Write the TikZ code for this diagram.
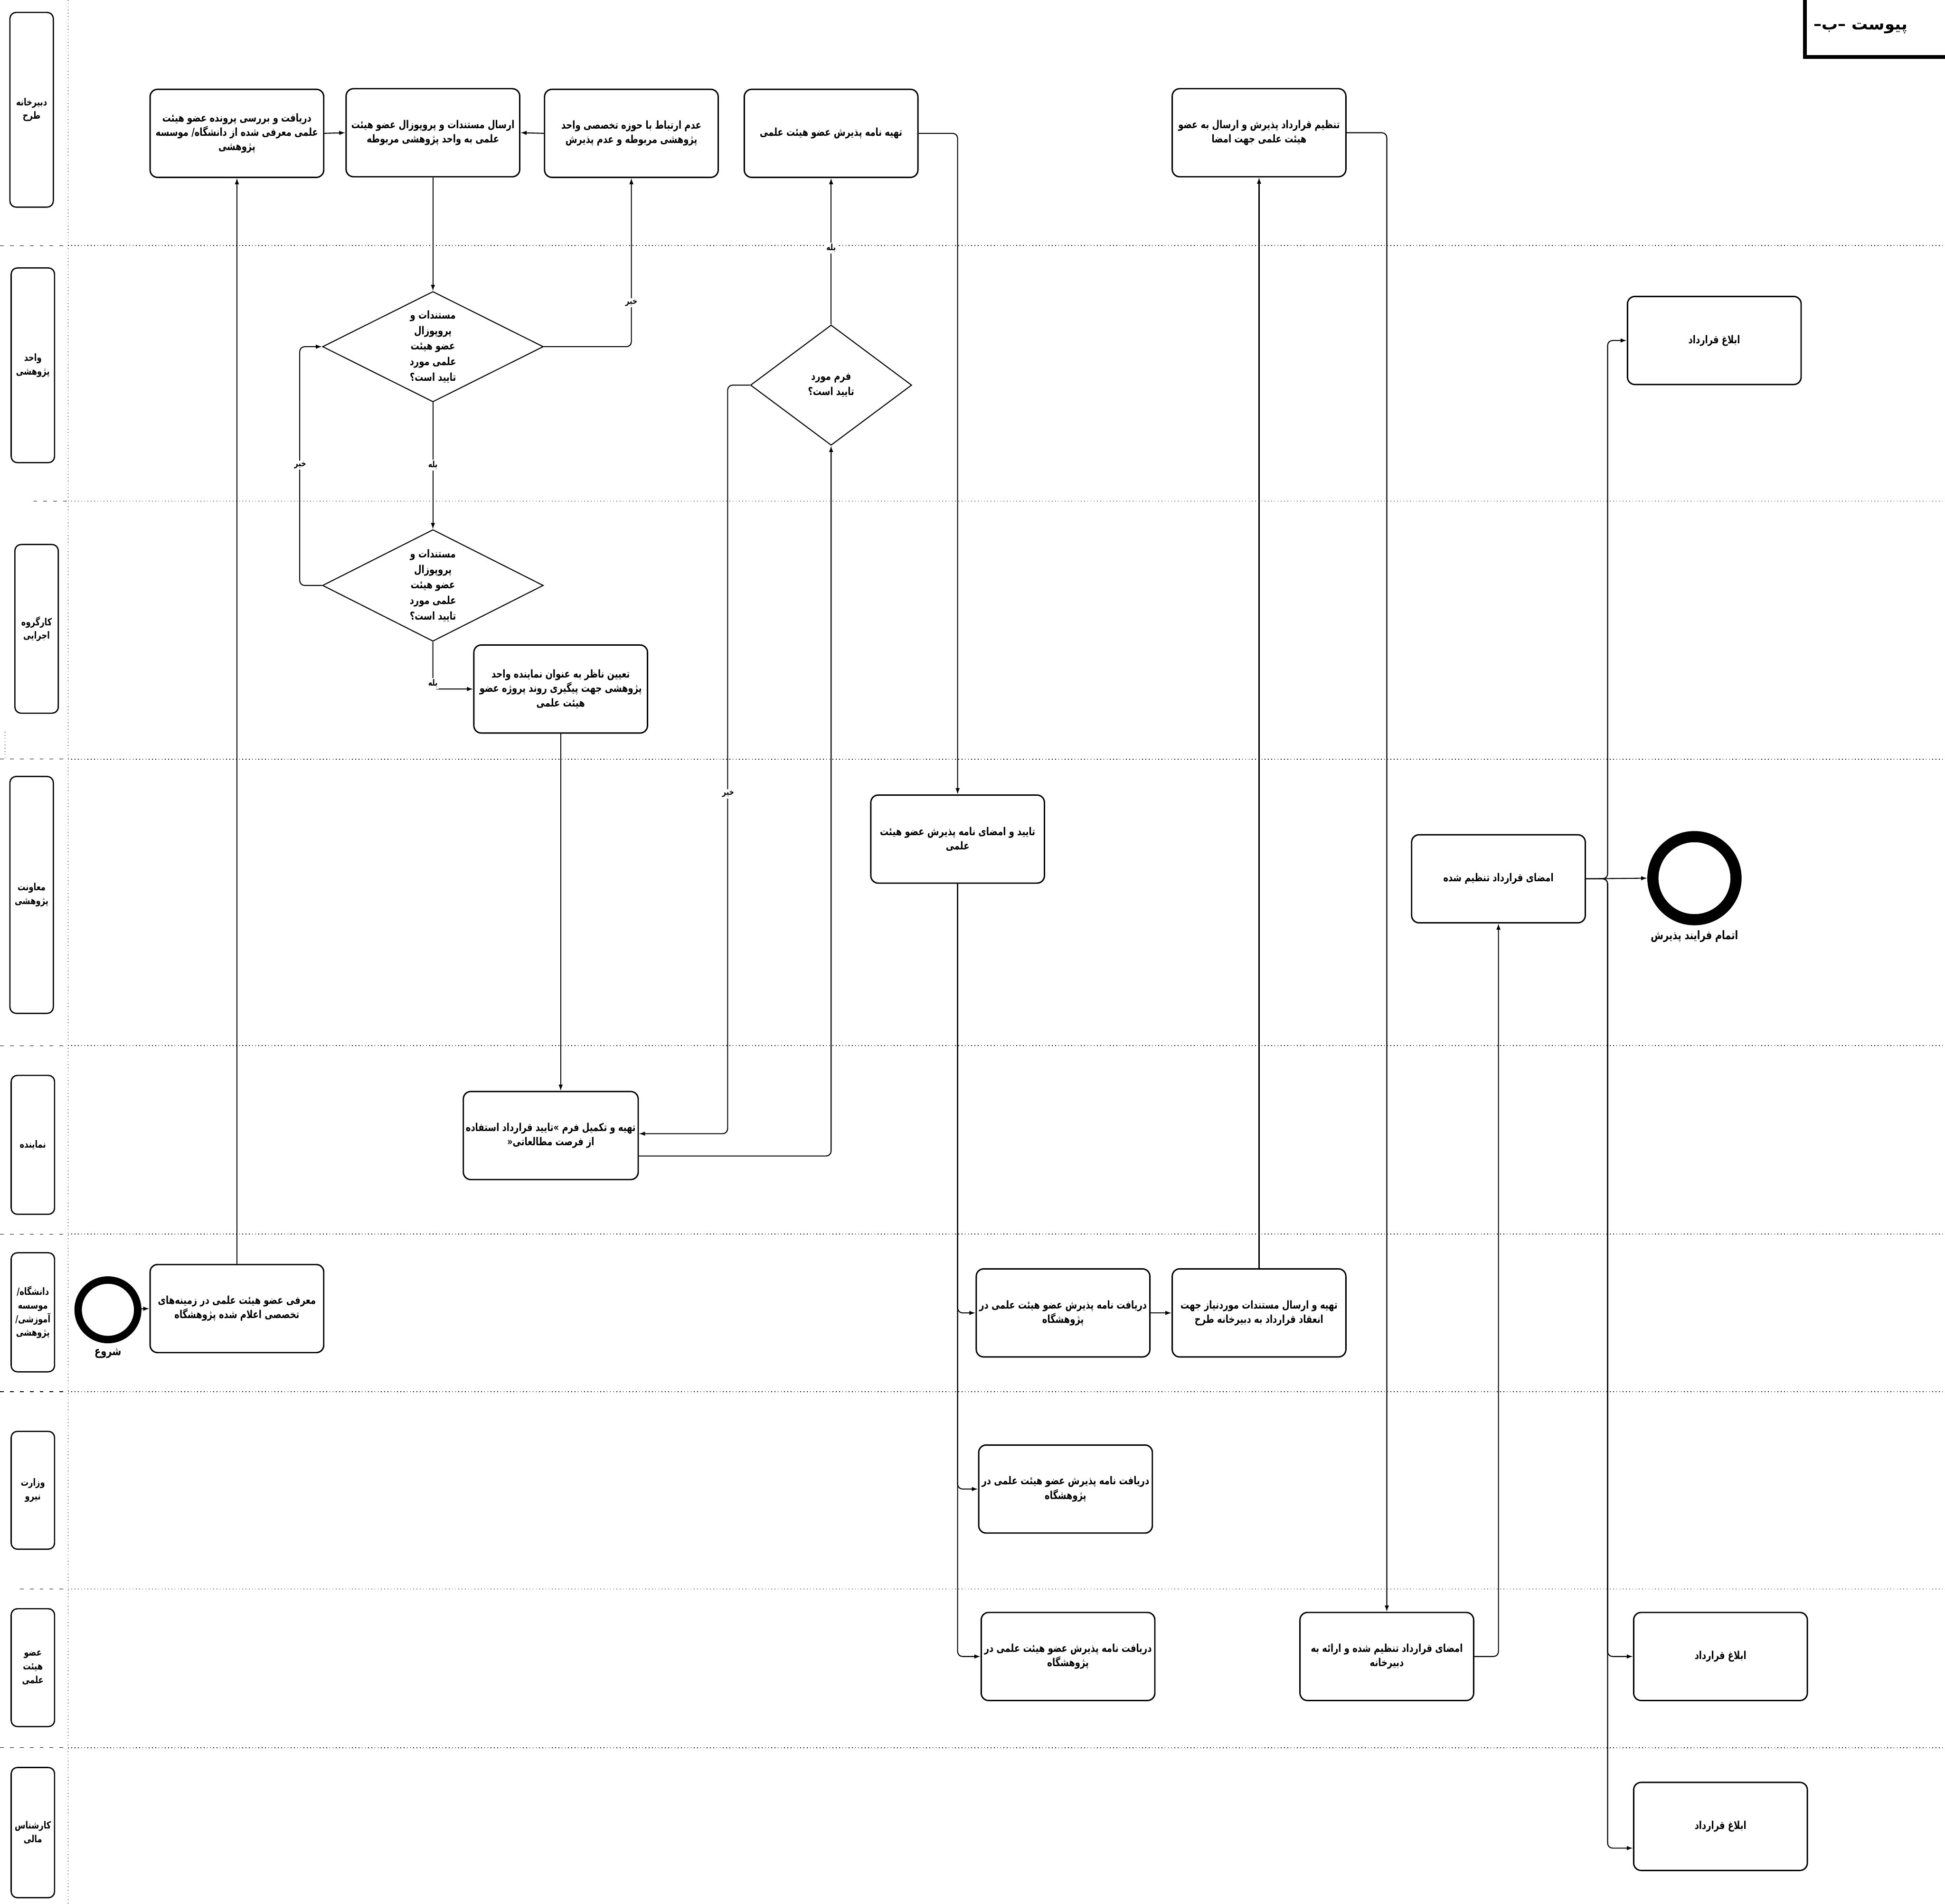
\documentclass[tikz,border=0pt]{standalone}
\usepackage{fontspec}
\usetikzlibrary{shapes.geometric,arrows.meta,calc}
\newfontfamily\arabicfont[Script=Arabic,FakeStretch=0.78]{DejaVu Sans}
\newfontfamily\titlefont[Script=Arabic]{DejaVu Sans}
\TeXXeTstate=1
\newcommand\ar[1]{\beginR #1\endR}
\tikzset{
 pbox/.style={draw, rounded corners=6pt, line width=1.1pt, minimum width=140pt, minimum height=71pt, align=center, inner sep=2pt, font=\arabicfont\bfseries\fontsize{8.8}{11.5}\selectfont},
 lanebox/.style={draw, rounded corners=5pt, line width=1pt, minimum width=35pt, align=center, inner sep=1pt, font=\arabicfont\bfseries\fontsize{8}{11}\selectfont},
 dec/.style={draw, diamond, line width=0.8pt, inner sep=0pt},
 dectext/.style={align=center, inner sep=0pt, font=\arabicfont\bfseries\fontsize{8.8}{12.5}\selectfont},
 flow/.style={line width=0.8pt, -{Latex[length=5pt,width=3.5pt]}, rounded corners=4pt},
 elabel/.style={fill=white, inner sep=1pt, font=\arabicfont\bfseries\fontsize{7}{8}\selectfont},
 sepdot/.style={dotted, line width=0.6pt},
 sepdash/.style={dash pattern=on 3pt off 5pt, line width=0.5pt},
 evt/.style={draw, circle},
 evtlabel/.style={font=\arabicfont\bfseries\fontsize{9.5}{10}\selectfont},
}
\begin{document}
\begin{tikzpicture}[x=1pt,y=-1pt]
\useasboundingbox (0,0) rectangle (1568,1535);
% separators
\draw[sepdot] (55,0) -- (55,1535);
\foreach \yy/\xs in {198/0,404/27,612/0,843/0,995/0,1122/0,1281/16,1409/0}{
  \draw[sepdash] (\xs,\yy) -- (55,\yy);
  \draw[sepdot] (55,\yy) -- (1568,\yy);
}
\draw[sepdot] (4,590) -- (4,612);
% title
\draw[line width=3pt] (1455,-10) rectangle (1580,46);
\node[font=\titlefont\bfseries\fontsize{13}{16}\selectfont] (title) at (1500,23) {\ar{پیوست –ب–}};
% lane labels
\node[lanebox, minimum height=157pt] (L1) at (25.5,88.5) {\ar{دبیرخانه}\\\ar{طرح}};
\node[lanebox, minimum height=157pt] (L2) at (26.5,294.5) {\ar{واحد}\\\ar{پژوهشی}};
\node[lanebox, minimum height=136pt] (L3) at (29.5,507) {\ar{کارگروه}\\\ar{اجرایی}};
\node[lanebox, minimum height=191pt] (L4) at (25.5,721.5) {\ar{معاونت}\\\ar{پژوهشی}};
\node[lanebox, minimum height=112pt] (L5) at (26.5,923) {\ar{نماینده}};
\node[lanebox, minimum height=96pt] (L6) at (26.5,1058) {\ar{دانشگاه/}\\\ar{موسسه}\\\ar{آموزشی/}\\\ar{پژوهشی}};
\node[lanebox, minimum height=95pt] (L7) at (26.5,1201.5) {\ar{وزارت}\\\ar{نیرو}};
\node[lanebox, minimum height=95pt] (L8) at (26.5,1344.5) {\ar{عضو}\\\ar{هیئت}\\\ar{علمی}};
\node[lanebox, minimum height=105pt] (L9) at (26.5,1477.5) {\ar{کارشناس}\\\ar{مالی}};
% process boxes
\node[pbox] (A) at (191,107.5) {\ar{دریافت و بررسی پرونده عضو هیئت}\\\ar{علمی معرفی شده از دانشگاه/ موسسه}\\\ar{پژوهشی}};
\node[pbox] (B) at (349,107) {\ar{ارسال مستندات و پروپوزال عضو هیئت}\\\ar{علمی به واحد پژوهشی مربوطه}};
\node[pbox] (C) at (509,107.5) {\ar{عدم ارتباط با حوزه تخصصی واحد}\\\ar{پژوهشی مربوطه و عدم پذیرش}};
\node[pbox] (D) at (670,107.5) {\ar{تهیه نامه پذیرش عضو هیئت علمی}};
\node[pbox] (E) at (1015,107) {\ar{تنظیم قرارداد پذیرش و ارسال به عضو}\\\ar{هیئت علمی جهت امضا}};
\node[pbox] (F) at (1382,274.5) {\ar{ابلاغ قرارداد}};
\node[pbox] (G) at (452,555.5) {\ar{تعیین ناظر به عنوان نماینده واحد}\\\ar{پژوهشی جهت پیگیری روند پروژه عضو}\\\ar{هیئت علمی}};
\node[pbox] (H) at (772,676.5) {\ar{تایید و امضای نامه پذیرش عضو هیئت}\\\ar{علمی}};
\node[pbox] (I) at (1208,708.5) {\ar{امضای قرارداد تنظیم شده}};
\node[pbox] (J) at (444,915.5) {\ar{تهیه و تکمیل فرم »تایید قرارداد استفاده}\\\ar{از فرصت مطالعاتی«}};
\node[pbox] (K) at (191,1055) {\ar{معرفی عضو هیئت علمی در زمینه‌های}\\\ar{تخصصی اعلام شده پژوهشگاه}};
\node[pbox] (L) at (857,1058.5) {\ar{دریافت نامه پذیرش عضو هیئت علمی در}\\\ar{پژوهشگاه}};
\node[pbox] (M) at (1015,1058.5) {\ar{تهیه و ارسال مستندات موردنیاز جهت}\\\ar{انعقاد قرارداد به دبیرخانه طرح}};
\node[pbox] (N) at (859,1200.5) {\ar{دریافت نامه پذیرش عضو هیئت علمی در}\\\ar{پژوهشگاه}};
\node[pbox] (O) at (861,1335.5) {\ar{دریافت نامه پذیرش عضو هیئت علمی در}\\\ar{پژوهشگاه}};
\node[pbox] (P) at (1118,1335.5) {\ar{امضای قرارداد تنظیم شده و ارائه به}\\\ar{دبیرخانه}};
\node[pbox] (Q) at (1387,1335.5) {\ar{ابلاغ قرارداد}};
\node[pbox] (R) at (1387,1472.5) {\ar{ابلاغ قرارداد}};
% decisions
\node[dec, minimum width=178pt, minimum height=89pt] (d1) at (349,279.5) {};
\node[dectext] (d1t) at (d1.center) {\ar{مستندات و}\\\ar{پروپوزال}\\\ar{عضو هیئت}\\\ar{علمی مورد}\\\ar{تایید است؟}};
\node[dec, minimum width=178pt, minimum height=90pt] (d2) at (349,472) {};
\node[dectext] (d2t) at (d2.center) {\ar{مستندات و}\\\ar{پروپوزال}\\\ar{عضو هیئت}\\\ar{علمی مورد}\\\ar{تایید است؟}};
\node[dec, minimum width=130pt, minimum height=97pt] (d3) at (670,310.5) {};
\node[dectext] (d3t) at (d3.center) {\ar{فرم مورد}\\\ar{تایید است؟}};
% events
\node[evt, line width=6pt, minimum size=48pt] (st) at (87,1056) {};
\node[evtlabel] (stl) at (87,1091) {\ar{شروع}};
\node[evt, line width=9pt, minimum size=67pt] (endc) at (1366,708) {};
\node[evtlabel] (endl) at (1366,755) {\ar{اتمام فرایند پذیرش}};
% connectors
\draw[flow] (st) -- (K.west);
\draw[flow] (K.north) -- (A.south);
\draw[flow] (A.east) -- (B.west);
\draw[flow] (C.west) -- (B.east);
\draw[flow] (B.south) -- (d1.north);
\draw[flow] (d1.east) -| (C.south);
\draw[flow] (d1.south) -- (d2.north);
\draw[flow] (d2.west) -- ++(-18,0) |- (d1.west);
\draw[flow] (d2.south) |- (G.west);
\draw[flow] (G.south) -- (G.south |- J.north);
\draw[flow] ($(J.east)+(0,16.5)$) -| (d3.south);
\draw[flow] (d3.west) -- ++(-18,0) |- ($(J.east)+(0,-1.5)$);
\draw[flow] (d3.north) -- (D.south);
\draw[flow] (D.east) -| (H.north);
\draw[flow] (H.south) |- (L.west);
\draw[flow] (H.south) |- (N.west);
\draw[flow] (H.south) |- (O.west);
\draw[flow] (L.east) -- (M.west);
\draw[flow] (M.north) -- (E.south);
\draw[flow] (E.east) -| (P.north);
\draw[flow] (P.east) -| (I.south);
\draw[flow] (I.east) -- (endc.west);
\coordinate (jn) at (1296,708.5);
\draw[flow] (I.east) -- (jn) |- (F.west);
\draw[flow] (I.east) -- (jn) |- (Q.west);
\draw[flow] (I.east) -- (jn) |- ($(R.west)+(0,17.5)$);
% edge labels
\node[elabel] (e1) at (509,244) {\ar{خیر}};
\node[elabel] (e2) at (349,375) {\ar{بله}};
\node[elabel] (e3) at (242,375) {\ar{خیر}};
\node[elabel] (e4) at (349,551) {\ar{بله}};
\node[elabel] (e5) at (587,640) {\ar{خیر}};
\node[elabel] (e6) at (670,200) {\ar{بله}};
\end{tikzpicture}
\end{document}
